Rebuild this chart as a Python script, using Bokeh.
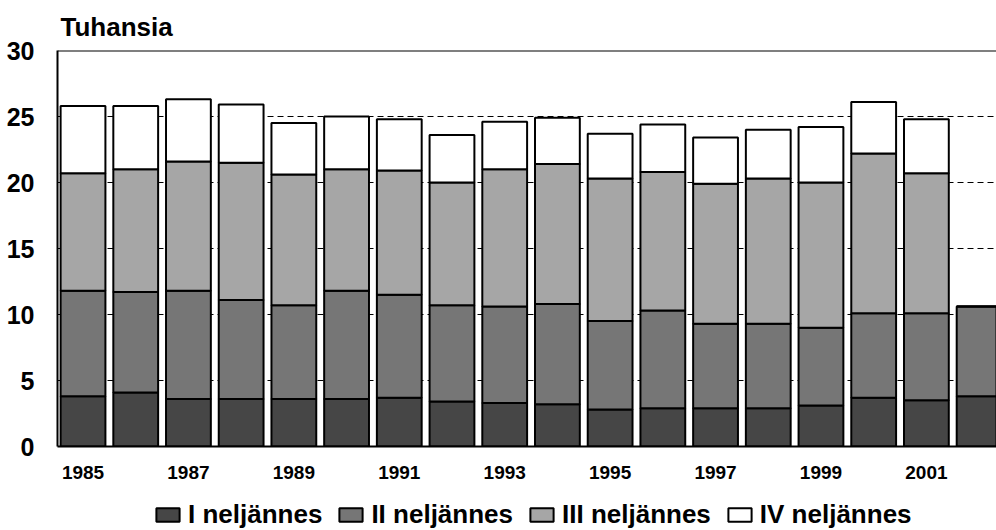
from bokeh.plotting import figure
from bokeh.layouts import column
from bokeh.models import Range1d, FixedTicker, Span, Legend, LegendItem, ColumnDataSource
from bokeh.embed import file_html
from bokeh.resources import INLINE

years = [str(y) for y in range(1985, 2003)]
q1 = [3.8, 4.1, 3.6, 3.6, 3.6, 3.6, 3.7, 3.4, 3.3, 3.2, 2.8, 2.9, 2.9, 2.9, 3.1, 3.7, 3.5, 3.8]
q2 = [8.0, 7.6, 8.2, 7.5, 7.1, 8.2, 7.8, 7.3, 7.3, 7.6, 6.7, 7.4, 6.4, 6.4, 5.9, 6.4, 6.6, 6.8]
q3 = [8.9, 9.3, 9.8, 10.4, 9.9, 9.2, 9.4, 9.3, 10.4, 10.6, 10.8, 10.5, 10.6, 11.0, 11.0, 12.1, 10.6, 0.0]
q4 = [5.1, 4.8, 4.7, 4.4, 3.9, 4.0, 3.9, 3.6, 3.6, 3.5, 3.4, 3.6, 3.5, 3.7, 4.2, 3.9, 4.1, 0.0]
labels = ["I neljännes", "II neljännes", "III neljännes", "IV neljännes"]
y_ticks = [0, 5, 10, 15, 20, 25, 30]
x_tick_idx = list(range(0, 17, 2))

FONT = "Liberation Sans"
FILLS = ["#464646", "#767676", "#a6a6a6", "#ffffff"]
STACK = ["q1", "q2", "q3", "q4"]

source = ColumnDataSource(dict(x=list(range(len(years))), q1=q1, q2=q2, q3=q3, q4=q4))

p = figure(width=996, height=494, output_backend="svg", toolbar_location=None,
           x_range=Range1d(-0.484, 17.33), y_range=Range1d(0, 30),
           min_border_left=57, min_border_right=0, min_border_top=50, min_border_bottom=48)
p.outline_line_color = None

rs = p.vbar_stack(STACK, x="x", width=0.85, source=source,
                  fill_color=FILLS, line_color="black", line_width=2)

p.title.text = "Tuhansia"
p.title.text_font = FONT
p.title.text_font_style = "bold"
p.title.text_font_size = "26px"
p.title.text_color = "black"
p.title.align = "left"
p.title.offset = 3
p.title.standoff = 18

p.xgrid.visible = False
p.ygrid.ticker = FixedTicker(ticks=[5, 10, 15, 20, 25])
p.ygrid.grid_line_color = "black"
p.ygrid.grid_line_dash = "6 4"
p.ygrid.grid_line_width = 1

p.yaxis.ticker = FixedTicker(ticks=y_ticks)
p.yaxis.major_label_text_font = FONT
p.yaxis.major_label_text_font_style = "bold"
p.yaxis.major_label_text_font_size = "25px"
p.yaxis.major_label_text_color = "black"
p.yaxis.major_tick_line_color = None
p.yaxis.minor_tick_line_color = None
p.yaxis.major_label_standoff = 17
p.yaxis.axis_line_width = 2
p.yaxis.axis_line_color = "black"

p.xaxis.ticker = FixedTicker(ticks=x_tick_idx)
p.xaxis.major_label_overrides = {i: years[i] for i in x_tick_idx}
p.xaxis.major_label_text_font = FONT
p.xaxis.major_label_text_font_style = "bold"
p.xaxis.major_label_text_font_size = "19px"
p.xaxis.major_label_text_color = "black"
p.xaxis.major_tick_line_color = None
p.xaxis.minor_tick_line_color = None
p.xaxis.major_label_standoff = 13
p.xaxis.axis_line_width = 2
p.xaxis.axis_line_color = "black"

p.add_layout(Span(location=30, dimension="width", line_color="black", line_width=2))

# legend strip below the chart: same data renderers, placed far outside its visible ranges
lf = figure(width=996, height=36, output_backend="svg", toolbar_location=None,
            x_range=Range1d(-100, -99), y_range=Range1d(100, 101),
            min_border=0, min_border_left=57, x_axis_type=None, y_axis_type=None)
lf.outline_line_color = None
lf.xgrid.visible = False
lf.ygrid.visible = False
lrs = lf.vbar_stack(STACK, x="x", width=0.85, source=source,
                    fill_color=FILLS, line_color="black", line_width=2)

legend = Legend(items=[LegendItem(label=labels[i], renderers=[lrs[i]]) for i in range(4)],
                orientation="horizontal", location=(96, 0),
                border_line_color=None, background_fill_alpha=0,
                padding=0, margin=0, spacing=14, label_standoff=6,
                glyph_width=29, glyph_height=17,
                label_text_font=FONT, label_text_font_style="bold",
                label_text_font_size="26px", label_text_color="black")
lf.add_layout(legend)

layout = column(p, lf, spacing=0)
open("out.html", "w").write(file_html(layout, INLINE))
